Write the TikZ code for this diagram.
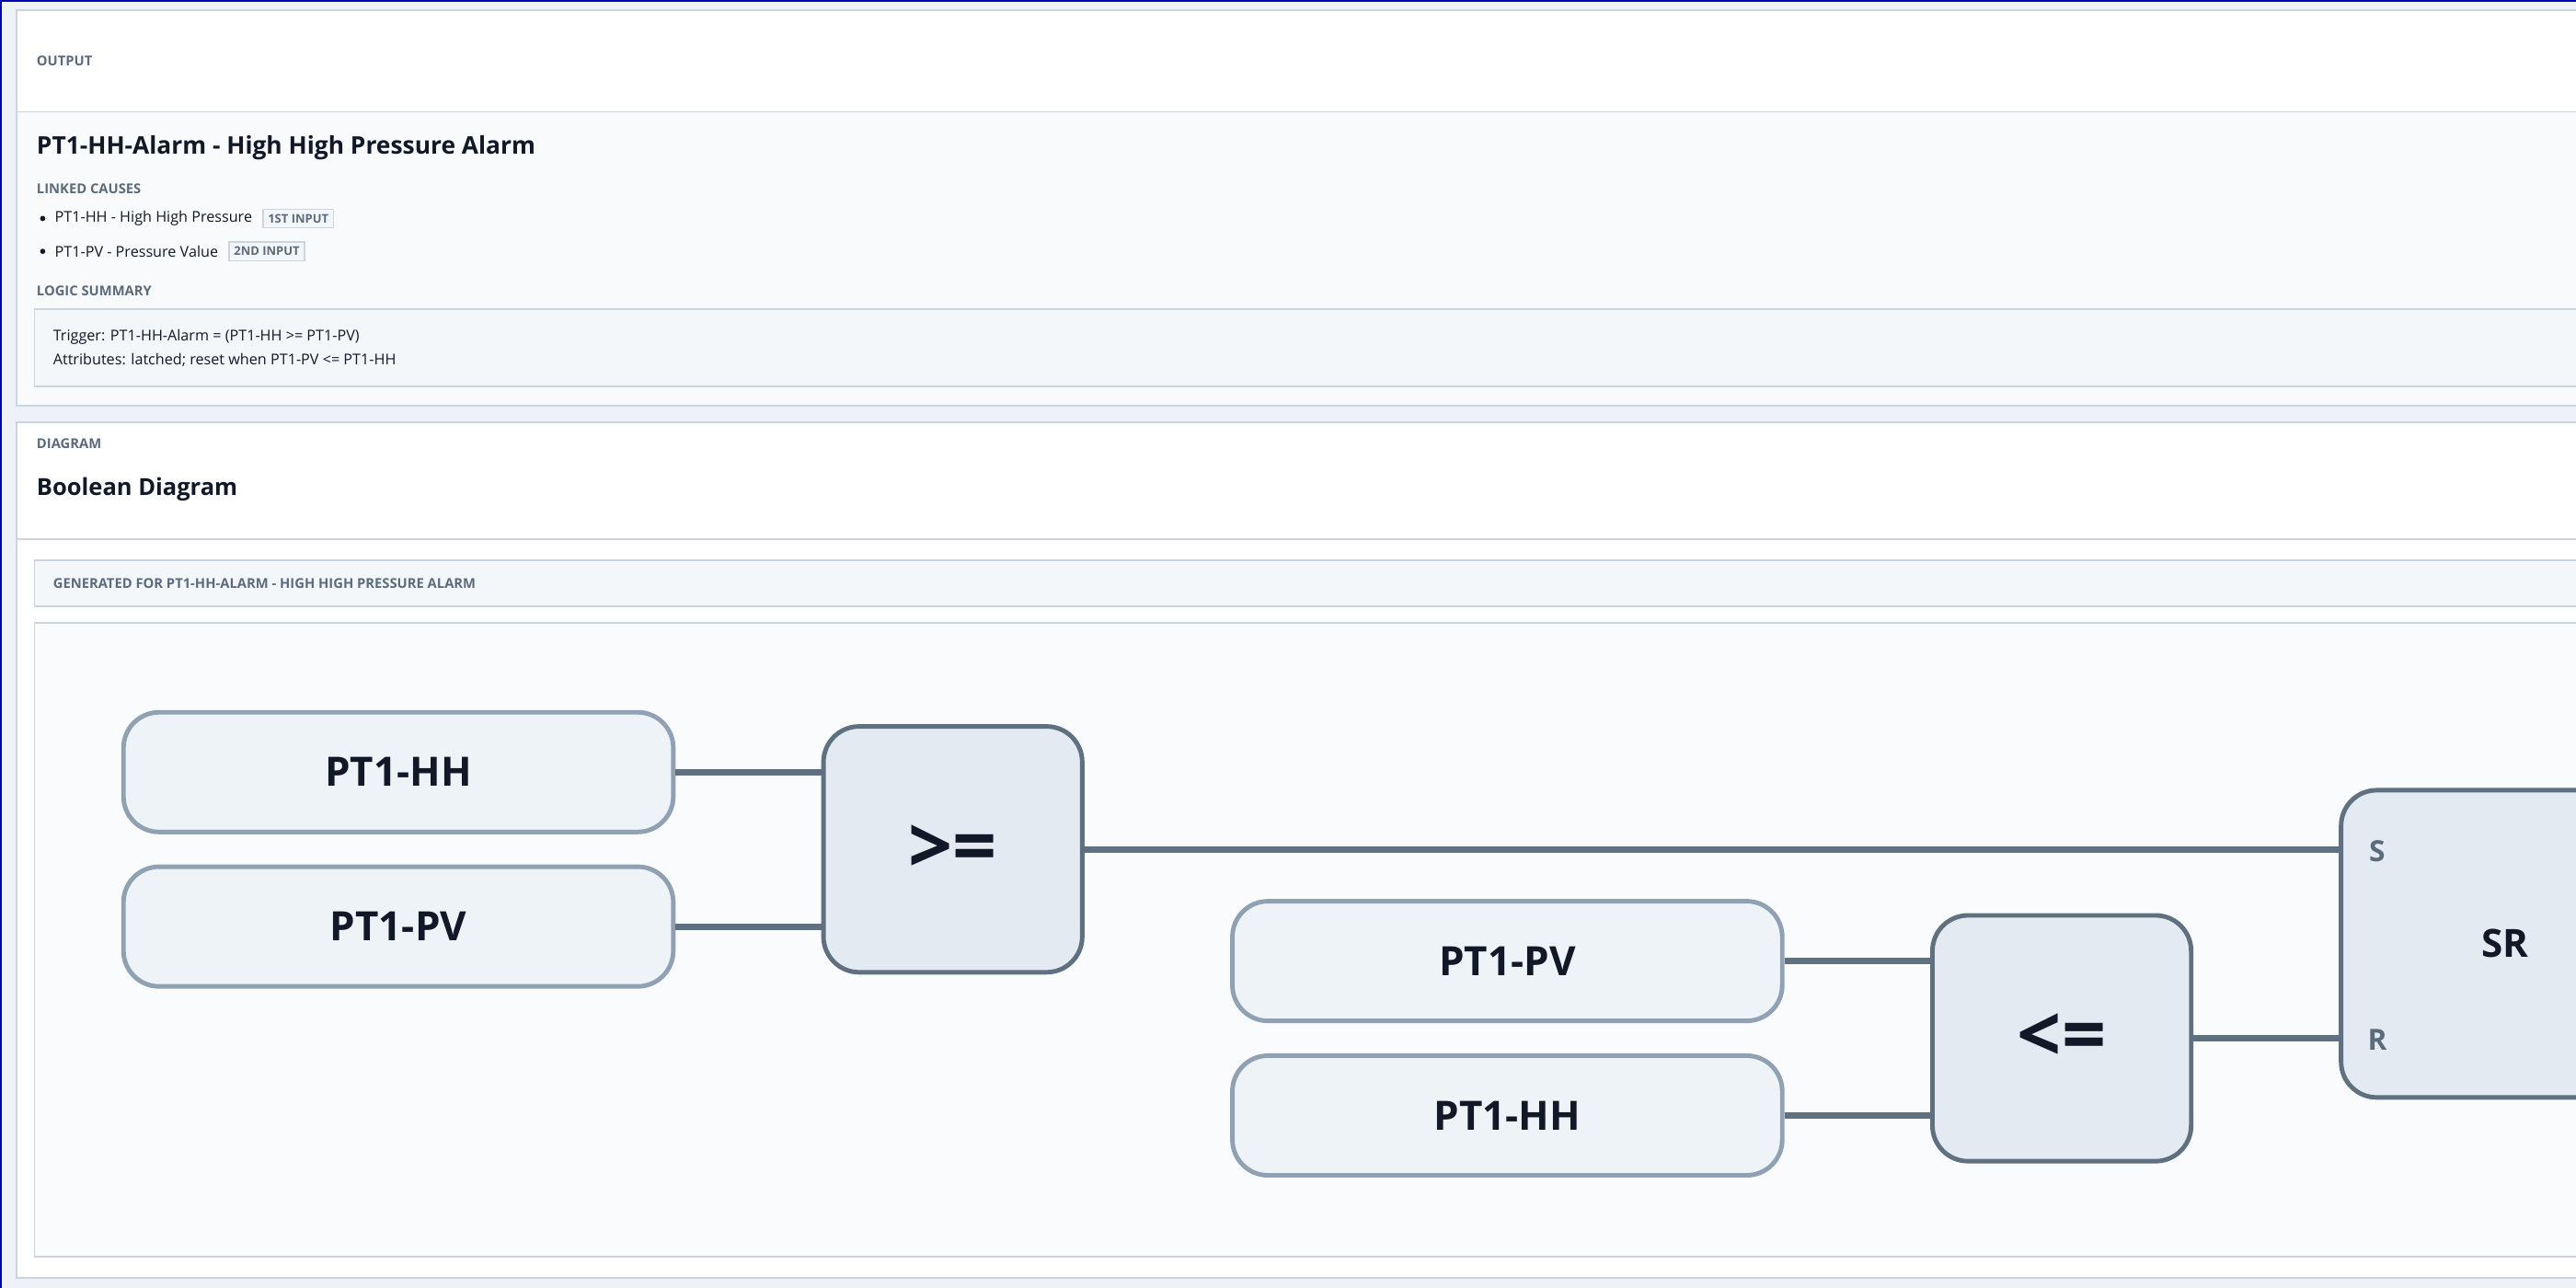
\documentclass[tikz,border=0pt]{standalone}
\usepackage{fontspec}
\setmainfont{Open Sans}
\usetikzlibrary{positioning}
\definecolor{pagebg}{HTML}{EEF2F6}
\definecolor{edge}{HTML}{CBD5E1}
\definecolor{ink}{HTML}{111827}
\definecolor{muted}{HTML}{5B6B7C}
\definecolor{wire}{HTML}{5F7181}
\definecolor{inbox}{HTML}{EEF3F7}
\definecolor{inedge}{HTML}{8FA1B3}
\definecolor{gatefill}{HTML}{E3EAF1}
\definecolor{soft}{HTML}{F4F7FA}
\begin{document}
\begin{tikzpicture}[x=0.017857cm,y=-0.017857cm,
	smallcap/.style={anchor=west, inner sep=0pt, text=muted, font=\fontsize{4.2}{5}\selectfont\bfseries},
	txt/.style={anchor=west, inner sep=0pt, text=ink, font=\fontsize{4.6}{5.5}\selectfont},
	badge/.style={anchor=west, draw=edge, fill=soft, text=muted, inner sep=1.5pt, font=\fontsize{3.7}{4.5}\selectfont\bfseries},
	signal/.style={draw=inedge, line width=1.4pt, fill=inbox, rounded corners=11pt, minimum width=170pt, minimum height=37pt, text=ink, font=\fontsize{12.5}{15}\selectfont\bfseries},
	gate/.style={draw=wire, line width=1.4pt, fill=gatefill, rounded corners=11pt, minimum width=80pt, minimum height=76pt, text=ink, font=\fontsize{24}{26}\selectfont\bfseries},
	wirestyle/.style={draw=wire, line width=2pt}]

	\useasboundingbox (0,0) rectangle (1568,784);
	\fill[pagebg] (0,0) rectangle (1568,784);
	\draw[blue!70!black, line width=1.2pt] (0,784) -- (0,0) -- (1568,0);

	% Output panel
	\filldraw[fill=white, draw=edge, line width=0.5pt] (10,6) rectangle (1575,247);
	\fill[soft!60] (10.5,68) rectangle (1568,246.5);
	\draw[edge, line width=0.5pt] (10,68) -- (1568,68);
	\node[smallcap] (outcap) at (22,37) {OUTPUT};
	\node[anchor=west, inner sep=0pt, text=ink, font=\fontsize{7.5}{9}\selectfont\bfseries] (title) at (22,90) {PT1-HH-Alarm - High High Pressure Alarm};
	\node[smallcap] (linked) at (22,115) {LINKED CAUSES};
	\fill[ink] (26,133) circle (1.6);
	\fill[ink] (26,153) circle (1.6);
	\node[txt] (cause1) at (33,133) {PT1-HH - High High Pressure};
	\node[badge, right=3pt of cause1] (b1) {1ST INPUT};
	\node[txt] (cause2) at (33,153) {PT1-PV - Pressure Value};
	\node[badge, right=3pt of cause2] (b2) {2ND INPUT};
	\node[smallcap] (logic) at (22,177) {LOGIC SUMMARY};
	\filldraw[fill=soft, draw=edge, line width=0.5pt] (21,188) rectangle (1575,235);
	\node[txt] (trig) at (32,205) {Trigger: PT1-HH-Alarm = (PT1-HH >= PT1-PV)};
	\node[txt] (attr) at (32,219) {Attributes: latched; reset when PT1-PV <= PT1-HH};

	% Diagram panel
	\filldraw[fill=white, draw=edge, line width=0.5pt] (10,257) rectangle (1575,778);
	\draw[edge, line width=0.5pt] (10,328) -- (1568,328);
	\node[smallcap] (diacap) at (22,270) {DIAGRAM};
	\node[anchor=west, inner sep=0pt, text=ink, font=\fontsize{7.25}{9}\selectfont\bfseries] (btitle) at (22,298) {Boolean Diagram};
	\filldraw[fill=soft, draw=edge, line width=0.5pt] (21,341) rectangle (1575,369);
	\node[smallcap] (gen) at (32,355) {GENERATED FOR PT1-HH-ALARM - HIGH HIGH PRESSURE ALARM};
	\filldraw[fill=soft!50, draw=edge, line width=0.5pt] (21,379) rectangle (1575,765);

	% Signals and gates
	\node[signal] (hh1) at (242.5,470) {PT1-HH};
	\node[signal] (pv1) at (242.5,564) {PT1-PV};
	\node[gate] (ge) at (580,517) {>=};
	\node[signal] (pv2) at (917.5,585) {PT1-PV};
	\node[signal] (hh2) at (917.5,679) {PT1-HH};
	\node[gate] (le) at (1255,632) {<=};
	\draw[draw=wire, line width=1.4pt, fill=gatefill, rounded corners=11pt] (1590,481) -- (1425,481) -- (1425,668) -- (1590,668);
	\coordinate (sin) at (1425,517);
	\coordinate (rin) at (1425,632);
	\node[text=muted, font=\fontsize{9}{10}\selectfont\bfseries] (slab) at (1447,518) {S};
	\node[text=muted, font=\fontsize{9}{10}\selectfont\bfseries] (rlab) at (1447,633) {R};
	\node[text=ink, font=\fontsize{12}{14}\selectfont\bfseries] (srlab) at (1525,574) {SR};

	\draw[wirestyle] (hh1.east) -- (hh1.east -| ge.west);
	\draw[wirestyle] (pv1.east) -- (pv1.east -| ge.west);
	\draw[wirestyle] (ge.east) -- (sin);
	\draw[wirestyle] (pv2.east) -- (pv2.east -| le.west);
	\draw[wirestyle] (hh2.east) -- (hh2.east -| le.west);
	\draw[wirestyle] (le.east) -- (rin);
\end{tikzpicture}
\end{document}
